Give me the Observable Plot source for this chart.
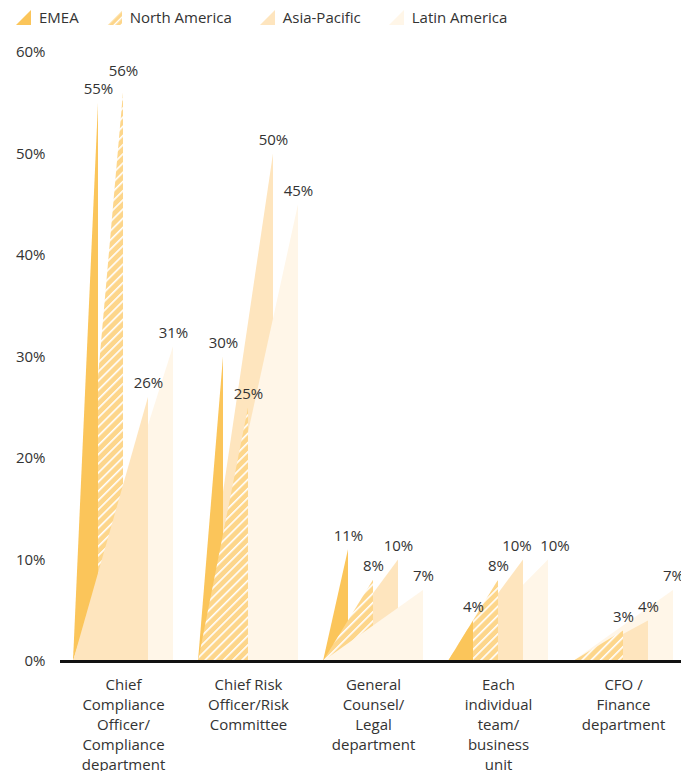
<!DOCTYPE html>
<html>
<head>
<meta charset="utf-8">
<script src="https://cdn.jsdelivr.net/npm/d3@7"></script>
<script src="https://cdn.jsdelivr.net/npm/@observablehq/plot@0.6"></script>
<style>
  html, body { margin: 0; padding: 0; background: #fff; }
  body { width: 681px; height: 771px; position: relative; overflow: hidden; font-family: "Open Sans", sans-serif; }
  #legend { position: absolute; top: 7px; left: 16px; display: flex; align-items: center; font-size: 15px; color: #333; z-index: 2; }
  .item { display: flex; align-items: center; margin-right: 28px; }
  .item svg { margin-right: 8px; display: block; }
  #chart { position: absolute; top: 0; left: 0; }
</style>
</head>
<body>
<div id="legend"></div>
<div id="chart"></div>
<script>
// ---- data ----
const categories = [
  "Chief\nCompliance\nOfficer/\nCompliance\ndepartment",
  "Chief Risk\nOfficer/Risk\nCommittee",
  "General\nCounsel/\nLegal\ndepartment",
  "Each\nindividual\nteam/\nbusiness\nunit",
  "CFO /\nFinance\ndepartment"
];
const seriesNames = ["EMEA", "North America", "Asia-Pacific", "Latin America"];
const emea = [55, 30, 11, 4, 0];
const northAmerica = [56, 25, 8, 8, 3];
const asiaPacific = [26, 50, 10, 10, 4];
const latinAmerica = [31, 45, 7, 10, 7];
const yTicks = [0, 10, 20, 30, 40, 50, 60];

// ---- styling ----
const colors = ["#FBC55A", "url(#naHatch)", "#FEE5BE", "#FFF6E8"];
const hatchBase = "#FDD68B";
const values = [emea, northAmerica, asiaPacific, latinAmerica];
const step = 5; // units per group (4 bars + gap)

// legend
const legend = document.getElementById("legend");
seriesNames.forEach((name, i) => {
  const item = document.createElement("div");
  item.className = "item";
  const fill = i === 1 ? "url(#legHatch)" : colors[i];
  item.innerHTML = `<svg width="15" height="15" viewBox="0 0 15 15">
    <defs><pattern id="legHatch" patternUnits="userSpaceOnUse" width="5" height="5" patternTransform="rotate(45)">
      <rect width="5" height="5" fill="${hatchBase}"/><rect x="0" width="1.4" height="5" fill="#fff"/></pattern></defs>
    <polygon points="0,15 15,0 15,15" fill="${fill}"/></svg><span>${name}</span>`;
  legend.appendChild(item);
});

// triangles, drawn with larger values behind
const marks = [];
const labelRows = [];
const pxPerUnitX = 25, pxPerPct = 10.15;
categories.forEach((c, g) => {
  const order = d3.range(values.length).sort((a, b) => values[b][g] - values[a][g] || b - a);
  for (const s of order) {
    const v = values[s][g];
    marks.push(Plot.areaY([{x: g * step, y: 0}, {x: g * step + s + 1, y: v}], {
      x: "x", y: "y", fill: colors[s], curve: "linear"
    }));
  }
  const rows = [];
  values.forEach((arr, s) => { if (arr[g] > 0) rows.push({g, s, v: arr[g], dx: 0, dy: -14}); });
  // simple label collision avoidance
  for (let k = 1; k < rows.length; k++) {
    const a = rows[k - 1], b = rows[k];
    const wa = 9 * String(a.v).length + 14, wb = 9 * String(b.v).length + 14;
    const xa = (a.s + 1) * pxPerUnitX + a.dx, xb = (b.s + 1) * pxPerUnitX + b.dx;
    const overlapX = (wa + wb) / 2 - (xb - xa);
    const ya = -a.v * pxPerPct + a.dy, yb = -b.v * pxPerPct + b.dy;
    const gapY = Math.abs(ya - yb);
    if (overlapX > 0 && gapY < 18) {
      if (a.v === b.v) { a.dx -= (overlapX + 6) / 2; b.dx += (overlapX + 6) / 2; }
      else if (a.v > b.v) a.dy -= 18 - gapY;
      else b.dy -= 18 - gapY;
    }
  }
  labelRows.push(...rows);
});

const chart = Plot.plot({
  width: 681,
  height: 771,
  marginTop: 52,
  marginBottom: 110,
  marginLeft: 60,
  marginRight: 0,
  style: {fontFamily: "Open Sans, sans-serif", fontSize: "15px", color: "#333", background: "transparent"},
  x: {domain: [-0.52, 24.32], axis: null},
  y: {domain: [0, 60], ticks: yTicks, tickFormat: d => d + "%", tickSize: 0, tickPadding: 15, label: null},
  marks: [
    ...marks,
    Plot.ruleY([0], {stroke: "#111", strokeWidth: 3}),
    ...labelRows.map(d => Plot.text([d], {
      x: d => d.g * step + d.s + 1, y: "v", text: d => d.v + "%",
      dx: d.dx, dy: d.dy, fill: "#333", fontSize: 15
    })),
    Plot.text(categories, {
      x: (d, i) => i * step + 2, y: () => 0, text: d => d,
      lineAnchor: "top", lineHeight: 1.34, dy: 14, fill: "#333", fontSize: 15
    })
  ]
});

// hatch pattern defs
const ns = "http://www.w3.org/2000/svg";
const defs = document.createElementNS(ns, "defs");
const pat = document.createElementNS(ns, "pattern");
pat.setAttribute("id", "naHatch");
pat.setAttribute("patternUnits", "userSpaceOnUse");
pat.setAttribute("width", "6.5");
pat.setAttribute("height", "6.5");
pat.setAttribute("patternTransform", "rotate(45)");
const bg = document.createElementNS(ns, "rect");
bg.setAttribute("width", "6.5"); bg.setAttribute("height", "6.5"); bg.setAttribute("fill", hatchBase);
const stripe = document.createElementNS(ns, "rect");
stripe.setAttribute("width", "1.6"); stripe.setAttribute("height", "6.5"); stripe.setAttribute("fill", "#fff");
pat.appendChild(bg); pat.appendChild(stripe);
defs.appendChild(pat);
chart.insertBefore(defs, chart.firstChild);

document.getElementById("chart").appendChild(chart);
</script>
</body>
</html>
